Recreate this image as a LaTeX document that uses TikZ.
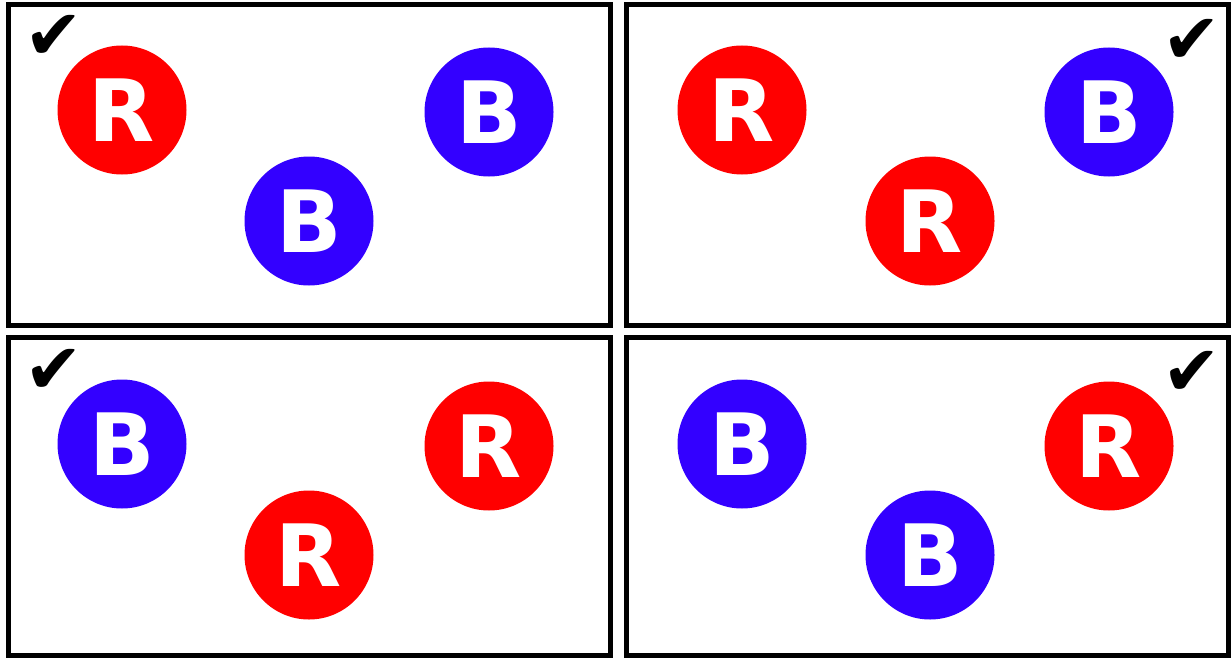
\documentclass[tikz,border=0pt]{standalone}
\usepackage{fontspec}
\setmainfont{DejaVu Sans}
\newfontfamily\symfont{DejaVu Sans}
\definecolor{rr}{HTML}{FF0000}
\definecolor{bb}{HTML}{3300FF}
\begin{document}
\begin{tikzpicture}[x=1pt,y=-1pt,
  panel/.style={draw=black,line width=5pt,fill=white},
  ball/.style={circle,minimum size=129pt,inner sep=0pt,text=white,font=\fontsize{86}{86}\selectfont\bfseries},
  redball/.style={ball,fill=rr},
  blueball/.style={ball,fill=bb},
  tick/.style={font=\symfont\fontsize{70}{70}\selectfont,inner sep=0pt}]
\useasboundingbox (0,0) rectangle (1231,658);
\draw[panel] (8,4.5) rectangle (610,325.5);
\draw[panel] (626.5,4.5) rectangle (1228,325.5);
\draw[panel] (8,337.5) rectangle (610,655);
\draw[panel] (626.5,337.5) rectangle (1228,655);
% panel 1
\node[redball] (p1a) at (122,110) {R};
\node[blueball] (p1b) at (489,112) {B};
\node[blueball] (p1c) at (309,221) {B};
\node[tick] (t1) at (54,37) {✔};
% panel 2
\node[redball] (p2a) at (742,110) {R};
\node[blueball] (p2b) at (1109,112) {B};
\node[redball] (p2c) at (930,221) {R};
\node[tick] (t2) at (1192,41) {✔};
% panel 3
\node[blueball] (p3a) at (122,444) {B};
\node[redball] (p3b) at (489,446) {R};
\node[redball] (p3c) at (309,555) {R};
\node[tick] (t3) at (54,371) {✔};
% panel 4
\node[blueball] (p4a) at (742,444) {B};
\node[redball] (p4b) at (1109,446) {R};
\node[blueball] (p4c) at (930,555) {B};
\node[tick] (t4) at (1192,373) {✔};
\end{tikzpicture}
\end{document}
